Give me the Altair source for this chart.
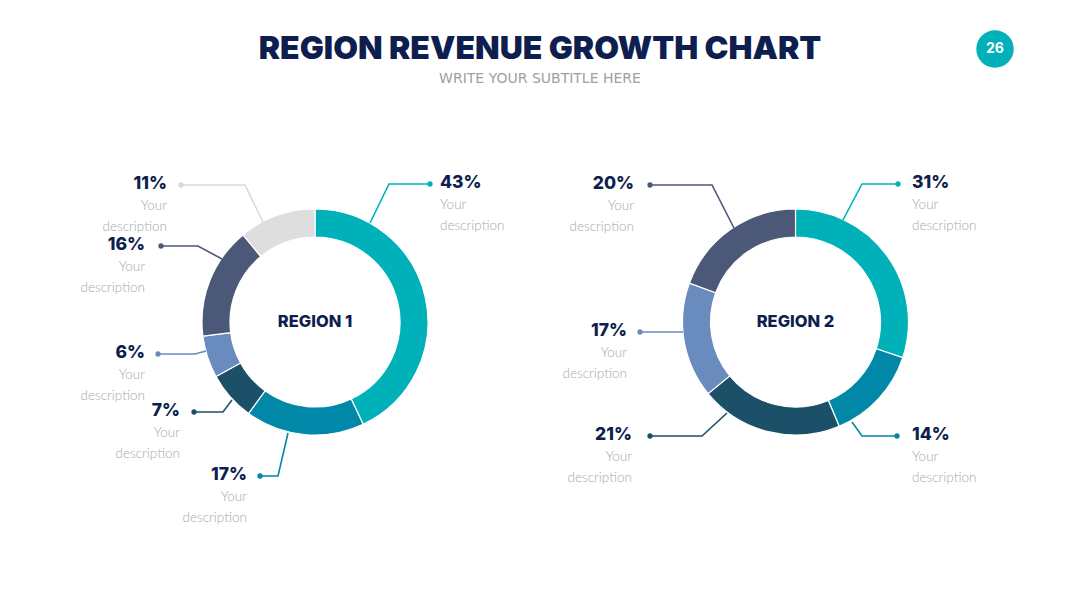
import math
import altair as alt
import pandas as pd

# ---------------- data ----------------
TITLE = "REGION REVENUE GROWTH CHART"
SUBTITLE = "WRITE YOUR SUBTITLE HERE"
PAGE = "26"
DESC = "Your\ndescription"

region_names = ["REGION 1", "REGION 2"]
r1_values = [43, 17, 7, 6, 16, 11]
r2_values = [31, 14, 21, 17, 20]

# ---------------- styles ----------------
r1_colors = ["#00B1B9", "#0187A7", "#1B5068", "#6A8BBE", "#4B5877", "#DEDEDE"]
r2_colors = ["#00B1B9", "#0187A7", "#1B5068", "#6A8BBE", "#4B5877"]
r1_line_colors = ["#00B1B9", "#0187A7", "#1B5068", "#6A8BBE", "#4B5877", "#D9D9D9"]
r2_line_colors = r2_colors
NAVY = "#0E1F4F"
GREY = "#A9A9A9"

# ---------------- layout (annotation geometry) ----------------
W, H = 1080, 608
centers = [(315, 322), (795.5, 322)]
R_OUT, R_IN = 113, 85
# leader lines: ring point -> elbow -> dot
r1_leaders = [
    [(370, 223), (389, 184), (430, 184)],
    [(288, 433), (278, 476), (260, 476)],
    [(232, 400), (223, 412), (194, 412)],
    [(206, 351), (195, 354), (158, 354)],
    [(222, 259), (198, 246), (161, 246)],
    [(263, 222), (245, 185), (181, 185)],
]
r1_label_x = [440, 247, 180, 145, 145, 167]
r2_leaders = [
    [(843, 220), (862, 184), (898, 184)],
    [(852, 422), (862, 436), (897, 436)],
    [(727, 413), (702, 436), (650, 436)],
    [(683, 332), (640, 332)],
    [(734, 228), (712, 185), (650, 185)],
]
r2_label_x = [912, 912, 632, 627, 634]

# ---------------- tables ----------------
arc_rows, line_rows, dot_rows, lab_rows = [], [], [], []
for ri, (vals, cols, lcols, leaders, labx) in enumerate([
    (r1_values, r1_colors, r1_line_colors, r1_leaders, r1_label_x),
    (r2_values, r2_colors, r2_line_colors, r2_leaders, r2_label_x),
]):
    cx, cy = centers[ri]
    total = sum(vals)
    cum = 0
    for si, v in enumerate(vals):
        arc_rows.append(dict(cx=cx, cy=cy, t0=cum / total, t1=(cum + v) / total,
                             color=cols[si]))
        cum += v
        key = f"{ri}-{si}"
        for pi, (px, py) in enumerate(leaders[si]):
            line_rows.append(dict(key=key, i=pi, px=px, py=py, color=lcols[si]))
        dx, dy = leaders[si][-1]
        dot_rows.append(dict(px=dx, py=dy, color=lcols[si]))
        side = "left" if labx[si] > dx else "right"
        lab_rows.append(dict(lx=labx[si], ly=dy - 1, pct=f"{v}%", side=side,
                             dy2=dy + 21, desc=DESC))

arcs = pd.DataFrame(arc_rows)
lines = pd.DataFrame(line_rows)
dots = pd.DataFrame(dot_rows)
labs = pd.DataFrame(lab_rows)
regions = pd.DataFrame(dict(cx=[c[0] for c in centers], cy=[c[1] for c in centers],
                            name=region_names))
title_df = pd.DataFrame(dict(x=[540], y=[49], t=[TITLE]))
sub_df = pd.DataFrame(dict(x=[540], y=[79], t=[SUBTITLE]))
page_df = pd.DataFrame(dict(x=[995], y=[49], t=[PAGE]))

xs = alt.Scale(domain=[0, W], range=[0, W])
ys = alt.Scale(domain=[0, H], range=[0, H])


def X(f):
    return alt.X(f, scale=xs, axis=None)


def Y(f):
    return alt.Y(f, scale=ys, axis=None)


arc_layer = alt.Chart(arcs).mark_arc(innerRadius=R_IN, outerRadius=R_OUT,
                                     stroke="white", strokeWidth=1.2).encode(
    x=X("cx:Q"), y=Y("cy:Q"),
    theta=alt.Theta("t0:Q", scale=alt.Scale(domain=[0, 1], range=[0, 2 * math.pi])),
    theta2="t1:Q",
    color=alt.Color("color:N", scale=None),
)

line_layer = alt.Chart(lines).mark_line(strokeWidth=1.6).encode(
    x=X("px:Q"), y=Y("py:Q"), detail="key:N", order="i:Q",
    color=alt.Color("color:N", scale=None),
)

dot_layer = alt.Chart(dots).mark_circle(size=28, opacity=1).encode(
    x=X("px:Q"), y=Y("py:Q"), color=alt.Color("color:N", scale=None),
)

layers = [arc_layer, line_layer, dot_layer]
for side in ["left", "right"]:
    sub = labs[labs.side == side]
    layers.append(alt.Chart(sub).mark_text(
        align=side, baseline="middle", font="Inter", fontSize=17.5, fontWeight=800,
        color=NAVY).encode(x=X("lx:Q"), y=Y("ly:Q"), text="pct:N"))
    layers.append(alt.Chart(sub).mark_text(
        align=side, baseline="middle", font="Lato", fontSize=13.5, fontWeight=300,
        lineBreak="\n", lineHeight=20.5, color=GREY).encode(
        x=X("lx:Q"), y=Y("dy2:Q"), text="desc:N"))

region_layer = alt.Chart(regions).mark_text(
    font="Inter", fontSize=16.5, fontWeight=800, color=NAVY, baseline="middle").encode(
    x=X("cx:Q"), y=Y("cy:Q"), text="name:N")

title_layer = alt.Chart(title_df).mark_text(
    font="Inter", fontSize=32, fontWeight=900, color=NAVY, baseline="middle").encode(
    x=X("x:Q"), y=Y("y:Q"), text="t:N")

sub_layer = alt.Chart(sub_df).mark_text(
    font="DejaVu Sans", fontSize=14, color="#A0A0A0", baseline="middle").encode(
    x=X("x:Q"), y=Y("y:Q"), text="t:N")

page_circle = alt.Chart(page_df).mark_circle(size=1400, opacity=1, color="#00B1B9").encode(
    x=X("x:Q"), y=Y("y:Q"))
page_text = alt.Chart(page_df).mark_text(
    font="Inter", fontSize=14, fontWeight=700, color="white", baseline="middle").encode(
    x=X("x:Q"), y=Y("y:Q"), text="t:N")

layers += [region_layer, title_layer, sub_layer, page_circle, page_text]

chart = alt.layer(*layers).properties(
    width=W, height=H, padding=0, background="white",
    autosize=alt.AutoSizeParams(type="none"),
).configure_view(stroke=None)

chart.save("out.html", embed_options={"renderer": "svg", "actions": False})
